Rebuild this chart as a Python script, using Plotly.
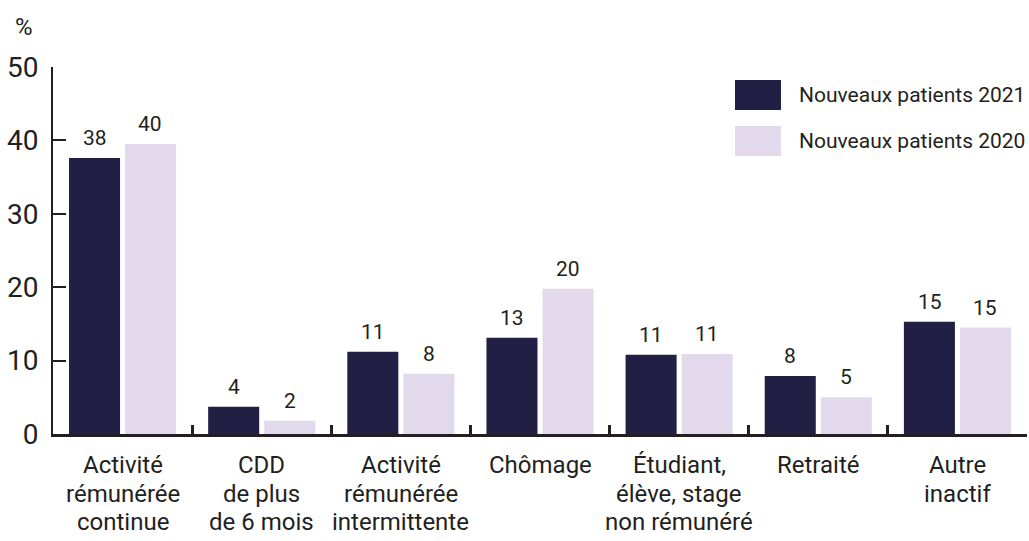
import plotly.graph_objects as go

categories = [
    "Activité<br>rémunérée<br>continue",
    "CDD<br>de plus<br>de 6 mois",
    "Activité<br>rémunérée<br>intermittente",
    "Chômage",
    "Étudiant,<br>élève, stage<br>non rémunéré",
    "Retraité",
    "Autre<br>inactif",
]
series_2021 = [37.6, 3.7, 11.2, 13.1, 10.8, 7.9, 15.3]
series_2020 = [39.5, 1.8, 8.2, 19.8, 10.9, 5.0, 14.5]
labels_2021 = ["38", "4", "11", "13", "11", "8", "15"]
labels_2020 = ["40", "2", "8", "20", "11", "5", "15"]
y_ticks = [0, 10, 20, 30, 40, 50]
series_names = ["Nouveaux patients 2021", "Nouveaux patients 2020"]

FONT = "Roboto, Liberation Sans, sans-serif"
TEXT = "#231f20"
DARK = "#221f45"
LIGHT = "#e3d9ec"

fig = go.Figure()
fig.add_bar(x=categories, y=series_2021, name=series_names[0], marker_color=DARK, marker_line_width=0)
fig.add_bar(x=categories, y=series_2020, name=series_names[1], marker_color=LIGHT, marker_line_width=0)

annotations = []
n = len(categories)
for vals, labs, off in ((series_2021, labels_2021, -1), (series_2020, labels_2020, 1)):
    for i, (v, t) in enumerate(zip(vals, labs)):
        annotations.append(dict(
            x=i + off * 0.2, y=v, xref="x", yref="y", text=t, showarrow=False,
            xanchor="center", yanchor="bottom", yshift=6,
            font=dict(family=FONT, size=21, color=TEXT)))

for i, c in enumerate(categories):
    for j, line in enumerate(c.split("<br>")):
        annotations.append(dict(
            x=i, y=0, xref="x", yref="paper", text=line, showarrow=False,
            xanchor="center", yanchor="top", yshift=-15 - 28.5 * j,
            font=dict(family=FONT, size=24, color=TEXT)))

annotations.append(dict(x=-0.0298, y=1.109, xref="paper", yref="paper", text="%",
                        showarrow=False, xanchor="center", yanchor="middle",
                        font=dict(family=FONT, size=24, color=TEXT)))

shapes = []
leg_y = [(0.9646, 0.8828), (0.8392, 0.7575)]
for (y1, y0), col, name in zip(leg_y, [DARK, LIGHT], series_names):
    shapes.append(dict(type="rect", xref="paper", yref="paper", x0=0.7002, x1=0.7474,
                       y0=y0, y1=y1, fillcolor=col, line_width=0, layer="above"))
    annotations.append(dict(x=0.7639, y=(y0 + y1) / 2, xref="paper", yref="paper", text=name,
                            showarrow=False, xanchor="left", yanchor="middle",
                            font=dict(family=FONT, size=21, color=TEXT)))

fig.update_layout(
    width=1029, height=541,
    margin=dict(l=53, r=2, t=67, b=107),
    paper_bgcolor="white", plot_bgcolor="white",
    barmode="group", bargap=0.194, bargroupgap=0.09,
    showlegend=False,
    font=dict(family=FONT, color=TEXT),
    annotations=annotations, shapes=shapes,
)
fig.update_xaxes(
    type="category", showticklabels=False, showgrid=False, zeroline=False,
    showline=True, linecolor=TEXT, linewidth=2.5,
    ticks="inside", tickson="boundaries", ticklen=9, tickwidth=3, tickcolor=TEXT,
    range=[-0.5, n - 0.5],
)
fig.update_yaxes(
    range=[0, 50], tickvals=y_ticks, showgrid=False, zeroline=False,
    showline=True, linecolor=TEXT, linewidth=2,
    ticks="inside", ticklen=13, tickwidth=2, tickcolor=TEXT,
    ticklabelstandoff=7,
    tickfont=dict(family=FONT, size=28, color=TEXT),
)

fig.write_html("out.html", config={"displayModeBar": False},
               post_script="document.body.style.margin='0';")
